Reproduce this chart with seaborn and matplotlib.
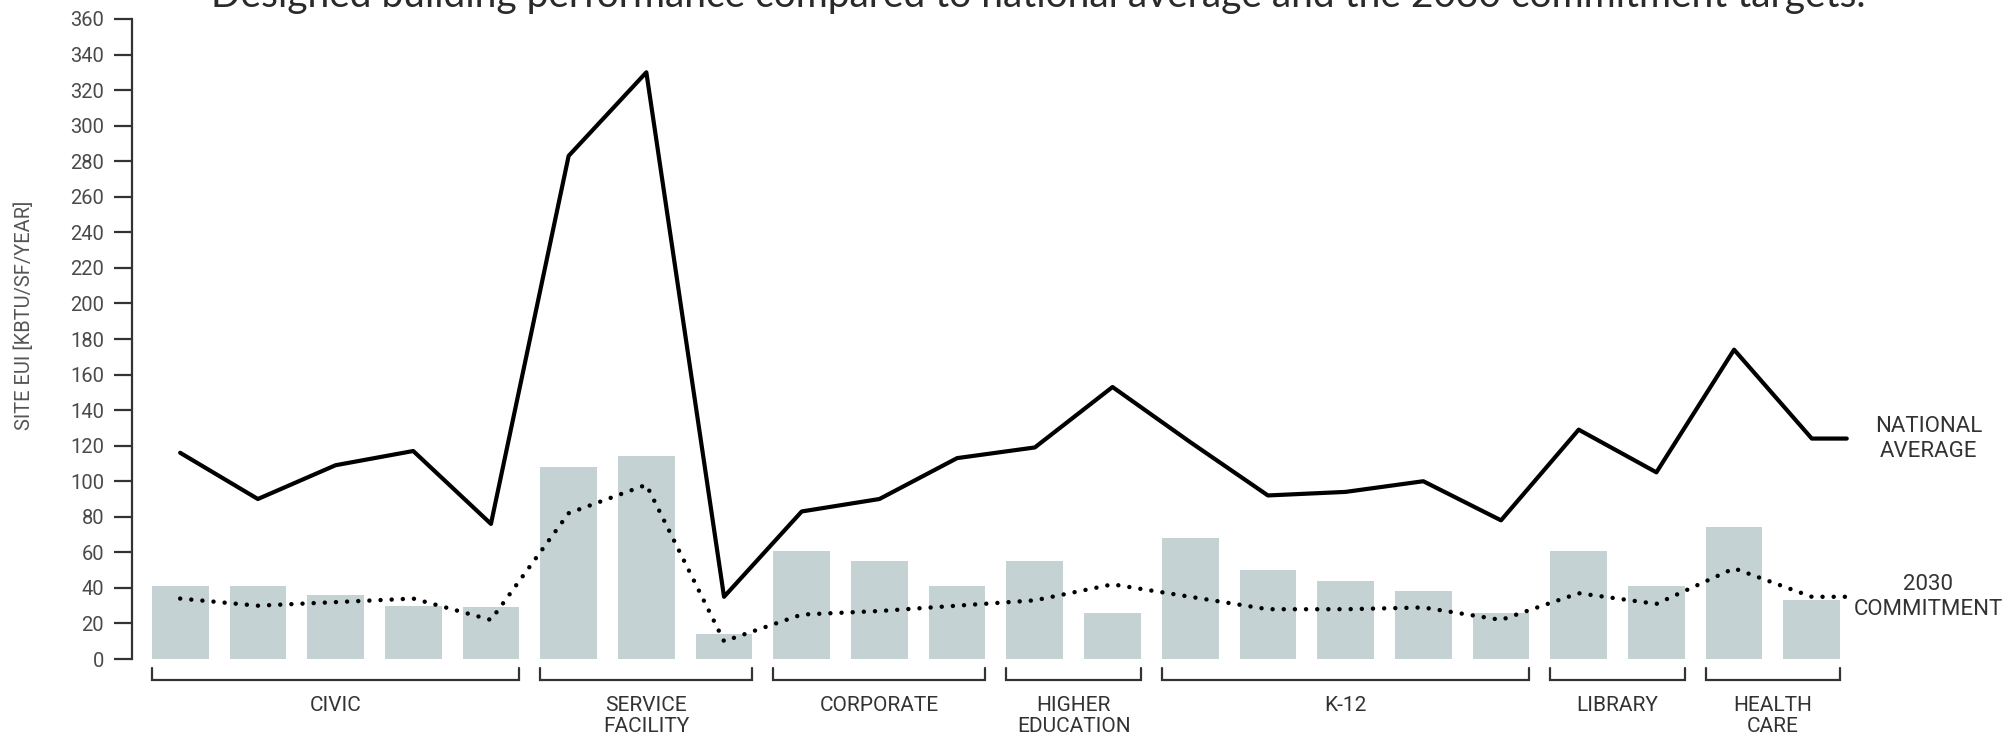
import numpy as np
import matplotlib.pyplot as plt
import seaborn as sns

# building types and number of projects in each
groups = ["CIVIC", "SERVICE\nFACILITY", "CORPORATE", "HIGHER\nEDUCATION", "K-12", "LIBRARY", "HEALTH\nCARE"]
group_sizes = [5, 3, 3, 2, 5, 2, 2]

# site EUI per project (kBtu/sf/year)
designed = [41, 41, 36, 30, 29, 108, 114, 14, 61, 55, 41, 55, 26, 68, 50, 44, 38, 26, 61, 41, 74, 33]
national_avg = [116, 90, 109, 117, 76, 283, 330, 35, 83, 90, 113, 119, 153, 122, 92, 94, 100, 78, 129, 105, 174, 124]
commitment = [34, 30, 32, 34, 22, 82, 98, 10, 25, 27, 30, 33, 42, 35, 28, 28, 29, 22, 37, 31, 51, 35]

y_ticks = list(range(0, 361, 20))

title = "Designed building performance compared to national average and the 2030 commitment targets."

sns.set_style("white")
plt.rcParams["font.family"] = ["Roboto", "DejaVu Sans"]

bar_color = "#c4d2d4"
ink = "#333333"
bar_w = 0.73

fig = plt.figure(figsize=(20.09, 7.36), dpi=100)
ax = fig.add_axes([0.0657, 0.1046, 0.8547, 0.8696])

idx = np.arange(len(designed))

# bars
sns.barplot(x=idx, y=designed, color=bar_color, saturation=1, width=bar_w,
            linewidth=0, ax=ax)

# lines, with a short tail past the last project
tail = len(idx) - 1 + 0.45
line_x = np.append(idx, tail)

sns.lineplot(x=line_x, y=national_avg + [national_avg[-1]], color="black",
             linewidth=3, ax=ax)
sns.lineplot(x=line_x, y=commitment + [commitment[-1]], color="black",
             linewidth=3.2, linestyle=(0, (0.01, 2.5)), dash_capstyle="round", ax=ax)

ax.set_xlim(-0.62, tail + 0.03)
ax.set_ylim(0, 360)
ax.set_yticks(y_ticks)
ax.set_xticks([])
ax.set_xlabel("")
ax.set_ylabel("")
ax.tick_params(axis="y", length=13, width=1.6, color=ink, labelsize=14.5,
               labelcolor="#4a4a4a", pad=7, left=True)
for s in ["top", "right", "bottom"]:
    ax.spines[s].set_visible(False)
ax.spines["left"].set_color(ink)
ax.spines["left"].set_linewidth(1.6)

# group brackets and labels
start = 0
for name, size in zip(groups, group_sizes):
    x0 = start - bar_w / 2
    x1 = start + size - 1 + bar_w / 2
    ax.plot([x0, x0, x1, x1], [-5, -12, -12, -5], color=ink, lw=1.6,
            clip_on=False, solid_joinstyle="miter")
    ax.text((x0 + x1) / 2, -21, name, ha="center", va="top", fontsize=15,
            color=ink, linespacing=1.1)
    start += size

# end labels
ax.text(len(idx) + 0.5, national_avg[-1], "NATIONAL\nAVERAGE", ha="center",
        va="center", fontsize=16, color=ink, linespacing=1.25)
ax.text(len(idx) + 0.5, commitment[-1], "2030\nCOMMITMENT", ha="center",
        va="center", fontsize=16, color=ink, linespacing=1.25)

fig.text(0.012, 0.571, "SITE EUI [KBTU/SF/YEAR]", rotation=90, ha="center",
         va="center", fontsize=14.5, color="#555555")

fig.text(0.517, 1 - 7 / 736, title, ha="center", va="baseline", fontsize=28,
         color="#2a2a2a", family=["Lato", "DejaVu Sans"])

fig.savefig("out.png", dpi=100)
